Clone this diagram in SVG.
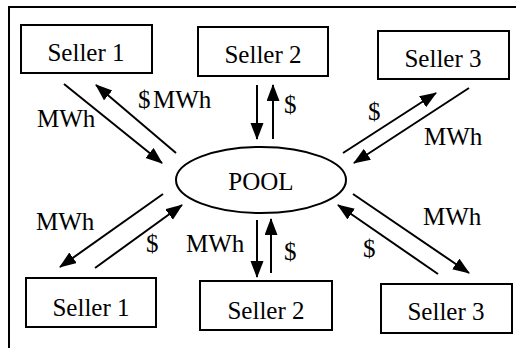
<svg xmlns="http://www.w3.org/2000/svg" width="516" height="348" viewBox="0 0 516 348">
  <style>
    .box { fill: #fff; stroke: #000; stroke-width: 2; }
    .pool { fill: #fff; stroke: #000; stroke-width: 2; }
    .lbl { font-family: 'Liberation Serif', 'DejaVu Serif', serif; font-size: 25px; fill: #000; }
    .mid { text-anchor: middle; }
    .flow { stroke: #000; stroke-width: 2; fill: none; marker-end: url(#head); }
  </style>
  <defs>
    <marker id="head" markerUnits="userSpaceOnUse" markerWidth="18" markerHeight="14" refX="16" refY="6.5" orient="auto">
      <path d="M0,0 L17,6.5 L0,13 z" fill="#000"/>
    </marker>
  </defs>
  <rect width="516" height="348" fill="#fff"/>
  <!-- frame: top and left edges -->
  <path d="M9,348 V7 H516" fill="none" stroke="#000" stroke-width="2"/>

  <g id="pool">
    <ellipse class="pool" cx="261" cy="180" rx="85" ry="33"/>
    <text class="lbl mid" x="261" y="190">POOL</text>
  </g>

  <g id="seller1-top">
    <rect class="box" x="21" y="25" width="131" height="48"/>
    <text class="lbl mid" x="86" y="61">Seller 1</text>
  </g>
  <g id="seller2-top">
    <rect class="box" x="198" y="27" width="130" height="49"/>
    <text class="lbl mid" x="263" y="63">Seller 2</text>
  </g>
  <g id="seller3-top">
    <rect class="box" x="378" y="31" width="131" height="48"/>
    <text class="lbl mid" x="443" y="67">Seller 3</text>
  </g>
  <g id="seller1-bottom">
    <rect class="box" x="26" y="278" width="130" height="49"/>
    <text class="lbl mid" x="91" y="316">Seller 1</text>
  </g>
  <g id="seller2-bottom">
    <rect class="box" x="200" y="281" width="132" height="49"/>
    <text class="lbl mid" x="266" y="319">Seller 2</text>
  </g>
  <g id="seller3-bottom">
    <rect class="box" x="381" y="284" width="131" height="49"/>
    <text class="lbl mid" x="446" y="320">Seller 3</text>
  </g>

  <g id="connectors">
    <!-- top left -->
    <line class="flow" x1="64" y1="84" x2="162" y2="163"/>
    <line class="flow" x1="176" y1="153" x2="96" y2="85"/>
    <!-- top middle -->
    <line class="flow" x1="257" y1="85" x2="257" y2="139"/>
    <line class="flow" x1="273" y1="139" x2="273" y2="85"/>
    <!-- top right -->
    <line class="flow" x1="343" y1="153" x2="436" y2="93"/>
    <line class="flow" x1="469" y1="88" x2="354" y2="163"/>
    <!-- bottom left -->
    <line class="flow" x1="163" y1="194" x2="60" y2="267"/>
    <line class="flow" x1="95" y1="268" x2="182" y2="205"/>
    <!-- bottom middle -->
    <line class="flow" x1="257" y1="220" x2="257" y2="277"/>
    <line class="flow" x1="271" y1="273" x2="271" y2="219"/>
    <!-- bottom right -->
    <line class="flow" x1="353" y1="194" x2="469" y2="273"/>
    <line class="flow" x1="438" y1="274" x2="338" y2="205"/>
  </g>

  <g id="labels">
    <text class="lbl" x="37" y="127">MWh</text>
    <text class="lbl" x="138" y="108">$</text>
    <text class="lbl" x="153" y="108">MWh</text>
    <text class="lbl" x="284" y="113">$</text>
    <text class="lbl" x="368" y="120">$</text>
    <text class="lbl" x="424" y="145">MWh</text>
    <text class="lbl" x="36" y="230">MWh</text>
    <text class="lbl" x="146" y="252">$</text>
    <text class="lbl" x="186" y="252">MWh</text>
    <text class="lbl" x="284" y="260">$</text>
    <text class="lbl" x="423" y="225">MWh</text>
    <text class="lbl" x="363" y="257">$</text>
  </g>
</svg>
